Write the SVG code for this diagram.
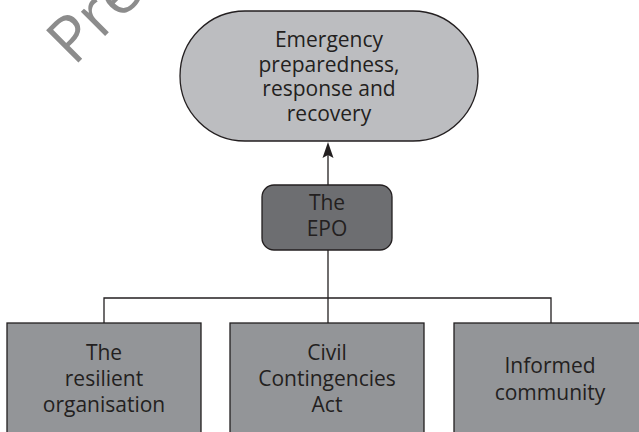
<svg xmlns="http://www.w3.org/2000/svg" width="639" height="432" viewBox="0 0 639 432">
<style>
.lbl{font-family:"Open Sans","Noto Sans","DejaVu Sans",sans-serif;font-size:21px;fill:#231f20;text-anchor:middle}
.edge{stroke:#231f20;stroke-width:1.3;fill:none}
.box{stroke:#231f20;stroke-width:1.3}
</style>
<rect width="639" height="432" fill="#ffffff"/>
<text x="74" y="67" transform="rotate(-45 74 67)" style="font-family:'Open Sans','DejaVu Sans',sans-serif;font-size:64px;fill:#8c8c8c">Pre</text>
<g id="connectors">
<line class="edge" x1="328" y1="185" x2="328" y2="150"/>
<polygon points="328,142 322.5,158 328,155 333.5,158" fill="#231f20"/>
<line class="edge" x1="328" y1="250" x2="328" y2="323"/>
<polyline class="edge" points="104,323 104,298 551,298 551,323"/>
</g>
<g id="node-goal">
<rect class="box" x="180" y="11" width="298" height="130" rx="65" ry="65" fill="#bcbdc0"/>
<text class="lbl"><tspan x="329" y="47">Emergency</tspan><tspan x="329" y="71.5">preparedness,</tspan><tspan x="329" y="96">response and</tspan><tspan x="329" y="120.5">recovery</tspan></text>
</g>
<g id="node-epo">
<rect class="box" x="262" y="185" width="130" height="65" rx="12" ry="12" fill="#6d6e71"/>
<text class="lbl"><tspan x="327" y="210">The</tspan><tspan x="327" y="235.5">EPO</tspan></text>
</g>
<g id="node-org">
<rect class="box" x="7" y="323" width="194" height="130" fill="#939598"/>
<text class="lbl"><tspan x="104" y="360">The</tspan><tspan x="104" y="386">resilient</tspan><tspan x="104" y="412">organisation</tspan></text>
</g>
<g id="node-cca">
<rect class="box" x="230" y="323" width="194" height="130" fill="#939598"/>
<text class="lbl"><tspan x="327" y="360">Civil</tspan><tspan x="327" y="386">Contingencies</tspan><tspan x="327" y="412">Act</tspan></text>
</g>
<g id="node-community">
<rect class="box" x="454" y="323" width="194" height="130" fill="#939598"/>
<text class="lbl"><tspan x="550" y="373">Informed</tspan><tspan x="550" y="399.5">community</tspan></text>
</g>
</svg>
